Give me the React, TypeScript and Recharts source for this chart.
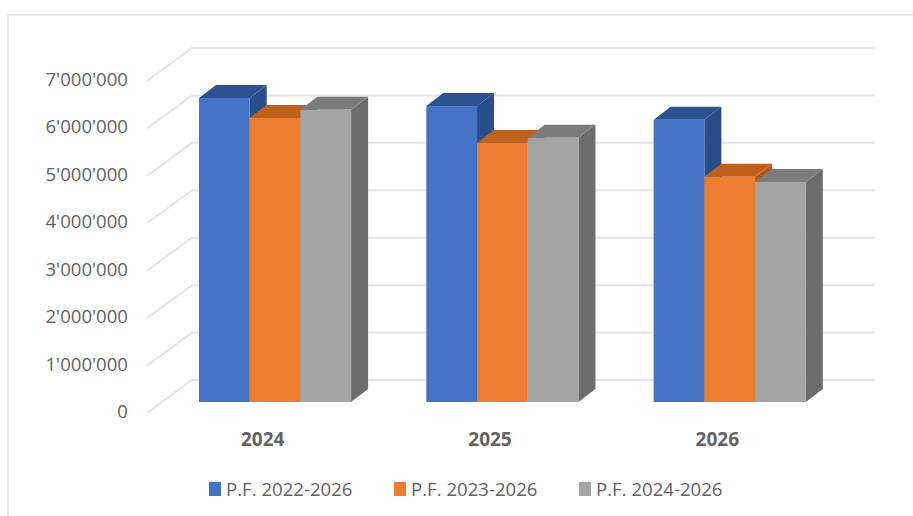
import { BarChart, Bar, XAxis, YAxis, CartesianGrid, Legend } from "recharts";

const years = ["2024", "2025", "2026"];
const pf2022 = [6410000, 6240000, 5950000];
const pf2023 = [5990000, 5460000, 4750000];
const pf2024 = [6160000, 5570000, 4640000];
const yTicks = [0, 1000000, 2000000, 3000000, 4000000, 5000000, 6000000, 7000000];

const chartData = years.map((year, i) => ({
  year,
  a: pf2022[i],
  b: pf2023[i],
  c: pf2024[i],
}));

const textColor = "#636363";
const fontFamily = "'Open Sans', sans-serif";
const DEPTH_X = 17;
const DEPTH_Y = 13;

const formatTick = (v: number) =>
  v.toString().replace(/\B(?=(\d{3})+(?!\d))/g, "'");

// fake 3d column: front + top + right side
function Box3D(props: any) {
  const { x, y, width, height, fill, topColor, sideColor } = props;
  const r = x + width;
  const b = y + height;
  return (
    <g>
      <polygon
        points={`${r},${y} ${r + DEPTH_X},${y - DEPTH_Y} ${r + DEPTH_X},${b - DEPTH_Y} ${r},${b}`}
        fill={sideColor}
      />
      <polygon
        points={`${x},${y} ${x + DEPTH_X},${y - DEPTH_Y} ${r + DEPTH_X},${y - DEPTH_Y} ${r},${y}`}
        fill={topColor}
      />
      <rect x={x} y={y} width={width} height={height} fill={fill} />
    </g>
  );
}

// gridline on the back wall with the diagonal running along the side wall
function WallLine(props: any) {
  const { x1, x2, y1 } = props;
  return (
    <path
      d={`M${x1 - 14},${y1 + 11} L${x1 + 31},${y1 - 22} L${x2 + 32},${y1 - 22}`}
      fill="none"
      stroke="#e4e4e4"
      strokeWidth={2}
    />
  );
}

function YTick(props: any) {
  const { x, y, payload } = props;
  return (
    <text x={x - 31} y={y + 16} textAnchor="end" fontSize={18.6} fontFamily={fontFamily} fill={textColor}>
      {formatTick(payload.value)}
    </text>
  );
}

function XTick(props: any) {
  const { x, y, payload } = props;
  return (
    <text x={x - 12} y={y + 42} textAnchor="middle" fontSize={19} fontWeight={700} fontFamily={fontFamily} fill={textColor}>
      {payload.value}
    </text>
  );
}

function LegendRow(props: any) {
  const { payload } = props;
  return (
    <div style={{ position: "relative", height: 26 }}>
      {(payload || []).map((entry: any, i: number) => (
        <div key={entry.value} style={{ position: "absolute", left: i * 185, top: 0, display: "flex", alignItems: "center", whiteSpace: "nowrap" }}>
          <span style={{ width: 12, height: 14, background: entry.color, display: "inline-block", marginRight: 5 }} />
          <span style={{ fontSize: 18.6, fontFamily, color: textColor }}>{entry.value}</span>
        </div>
      ))}
    </div>
  );
}

export default function App() {
  return (
    <div style={{ position: "absolute", left: 0, top: 0, width: 913, height: 516, overflow: "hidden", background: "#fff" }}>
      <div style={{ position: "absolute", left: 7, top: 14, right: 0, bottom: 0, borderLeft: "2px solid #e8e8e8", borderTop: "2px solid #e8e8e8" }} />
      <div style={{ position: "absolute", left: 0, top: 0 }}>
        <BarChart
          width={913}
          height={516}
          data={chartData}
          margin={{ top: 70, right: 70, left: 31, bottom: 0 }}
          barGap={0}
          barSize={50.7}
        >
          <CartesianGrid vertical={false} horizontal={(p: any) => <WallLine key={p.key ?? p.y1} {...p} />} />
          <XAxis dataKey="year" axisLine={false} tickLine={false} tickSize={0} height={60} tick={<XTick />} />
          <YAxis
            width={130}
            domain={[0, 7000000]}
            ticks={yTicks}
            axisLine={false}
            tickLine={false}
            tickSize={0}
            tick={<YTick />}
          />
          <Legend
            verticalAlign="bottom"
            height={54}
            content={<LegendRow />}
            wrapperStyle={{ left: 209, top: 476, width: 600 }}
          />
          <Bar dataKey="a" name="P.F. 2022-2026" fill="#4472c4" isAnimationActive={false} shape={<Box3D topColor="#2c5292" sideColor="#2a4e8c" />} />
          <Bar dataKey="b" name="P.F. 2023-2026" fill="#ed7d31" isAnimationActive={false} shape={<Box3D topColor="#bf601c" sideColor="#b3591a" />} />
          <Bar dataKey="c" name="P.F. 2024-2026" fill="#a5a5a5" isAnimationActive={false} shape={<Box3D topColor="#7c7c7c" sideColor="#6c6c6c" />} />
        </BarChart>
      </div>
    </div>
  );
}
